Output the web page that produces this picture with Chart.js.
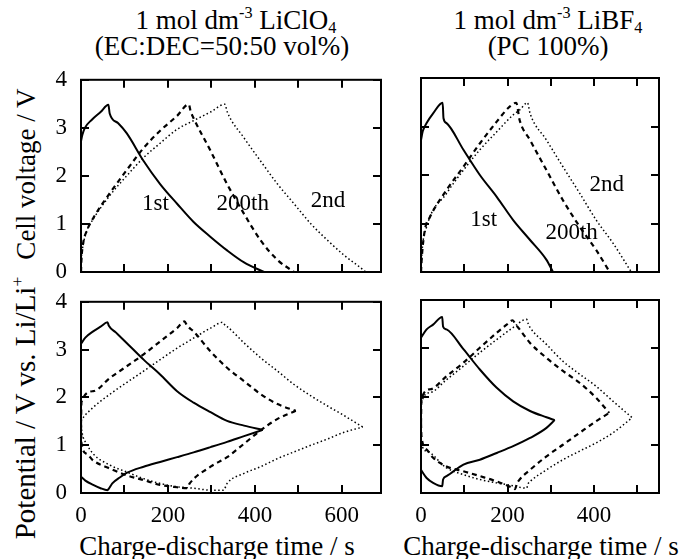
<!DOCTYPE html>
<html>
<head>
<meta charset="utf-8">
<script src="https://cdn.jsdelivr.net/npm/chart.js@4"></script>
<style>
    body {
        margin: 0;
        background: #fff;
        font-family: "Liberation Serif", "DejaVu Serif", serif;
        color: #000;
    }
    .page {
        position: relative;
        width: 681px;
        height: 559px;
        overflow: hidden;
    }
    .box {
        position: absolute;
    }
    .txt {
        position: absolute;
        text-align: center;
        white-space: nowrap;
        font-size: 27px;
        line-height: 30px;
    }
    .ytitle {
        transform: rotate(-90deg);
        transform-origin: center center;
    }
    sup, sub {
        font-size: 0.6em;
        line-height: 0;
    }
    sup { vertical-align: 0.7em; }
    sub { vertical-align: -0.25em; }
</style>
</head>
<body>
<div class="page">
    <div class="txt" style="left:86px;top:5px;width:300px;">1 mol dm<sup>-3</sup> LiClO<sub>4</sub></div>
    <div class="txt" style="left:72px;top:31px;width:300px;">(EC:DEC=50:50 vol%)</div>
    <div class="txt" style="left:400px;top:5px;width:296px;">1 mol dm<sup>-3</sup> LiBF<sub>4</sub></div>
    <div class="txt" style="left:400px;top:31px;width:296px;">(PC 100%)</div>

    <div class="txt ytitle" style="left:-124px;top:159px;width:300px;">Cell voltage / V</div>
    <div class="txt ytitle" style="left:-125px;top:393px;width:300px;font-size:29px;">Potential / V vs. Li/Li<sup>+</sup></div>

    <div class="txt" style="left:67px;top:531px;width:300px;">Charge-discharge time / s</div>
    <div class="txt" style="left:391px;top:531px;width:300px;">Charge-discharge time / s</div>

    <div class="box" style="left:41px;top:60px;width:345px;height:232px;"><canvas id="cellClO4"></canvas></div>
    <div class="box" style="left:406px;top:60px;width:260px;height:232px;"><canvas id="cellBF4"></canvas></div>
    <div class="box" style="left:41px;top:282px;width:345px;height:250px;"><canvas id="potClO4"></canvas></div>
    <div class="box" style="left:406px;top:282px;width:260px;height:250px;"><canvas id="potBF4"></canvas></div>
</div>

<script>
// [time / s, voltage / V]
// 1 mol dm-3 LiClO4, cell voltage
const cellClO4_1st = [[0,2.72],[3,2.85],[9,3.0],[25,3.17],[45,3.33],[63,3.48],[66,3.3],[85,3.1],[105,2.89],[144,2.31],[182,1.83],[221,1.42],[259,1.04],[298,0.73],[336,0.45],[375,0.2],[421,0]];
const cellClO4_200th = [[0,0],[1,0.25],[5,0.6],[13,0.85],[28,1.12],[67,1.65],[105,2.12],[144,2.58],[182,2.94],[221,3.25],[248,3.49],[252,3.35],[259,3.2],[298,2.52],[336,1.83],[375,1.21],[413,0.66],[452,0.25],[490,0]];
const cellClO4_2nd = [[0,0],[1,0.3],[4,0.52],[13,0.85],[28,1.1],[67,1.6],[105,2.0],[144,2.38],[182,2.68],[221,2.97],[259,3.15],[298,3.33],[331,3.49],[336,3.34],[375,2.79],[413,2.31],[452,1.83],[490,1.42],[529,1.0],[567,0.66],[605,0.35],[640,0.11],[655,0]];

// 1 mol dm-3 LiBF4, cell voltage
const cellBF4_1st = [[0,2.72],[4,2.9],[13,3.07],[28,3.27],[50,3.49],[52,3.17],[59,3.07],[98,2.52],[136,2.0],[175,1.55],[213,1.07],[252,0.66],[290,0.25],[305,0]];
const cellBF4_200th = [[0,0],[2,0.32],[9,0.87],[21,1.14],[59,1.69],[98,2.17],[136,2.65],[175,3.1],[205,3.41],[220,3.49],[228,3.13],[252,2.72],[290,2.1],[328,1.48],[367,0.93],[405,0.45],[436,0]];
const cellBF4_2nd = [[0,0],[2,0.38],[13,0.93],[59,1.62],[98,2.1],[136,2.52],[175,2.89],[213,3.24],[228,3.34],[246,3.49],[252,3.27],[290,2.72],[328,2.17],[367,1.62],[405,1.07],[444,0.59],[486,0]];

// LiClO4, electrode potentials (pos = upper branch, neg = lower branch)
const potClO4_1st_pos = [[0,3.12],[10,3.25],[28,3.38],[45,3.48],[61,3.57],[64,3.5],[80,3.36],[105,3.14],[144,2.79],[182,2.48],[221,2.13],[259,1.89],[298,1.69],[336,1.51],[375,1.41],[418,1.32]];
const potClO4_1st_neg = [[0,0.34],[10,0.26],[28,0.17],[45,0.1],[61,0.06],[64,0.09],[72,0.2],[90,0.33],[105,0.42],[144,0.55],[182,0.65],[221,0.75],[259,0.85],[298,0.96],[336,1.07],[375,1.19],[418,1.32]];
const potClO4_200th_pos = [[0,1.45],[1,1.9],[28,2.13],[67,2.41],[105,2.65],[144,2.9],[182,3.17],[221,3.45],[238,3.59],[244,3.5],[259,3.38],[298,2.96],[336,2.62],[375,2.34],[413,2.07],[452,1.86],[494,1.72]];
const potClO4_200th_neg = [[0,1.45],[1,1.05],[13,0.82],[28,0.68],[67,0.51],[105,0.37],[144,0.27],[182,0.17],[221,0.12],[244,0.1],[250,0.2],[298,0.55],[336,0.75],[375,1.03],[413,1.31],[452,1.55],[494,1.72]];
const potClO4_2nd_pos = [[0,1.5],[1,1.52],[28,1.79],[67,2.07],[105,2.31],[144,2.55],[182,2.79],[221,3.03],[259,3.24],[298,3.45],[326,3.57],[332,3.5],[336,3.48],[375,3.14],[413,2.83],[452,2.55],[490,2.27],[529,2.03],[567,1.82],[605,1.62],[648,1.38]];
const potClO4_2nd_neg = [[0,1.5],[2,1.3],[13,1.03],[28,0.82],[67,0.58],[105,0.44],[144,0.3],[182,0.2],[221,0.13],[259,0.1],[298,0.06],[328,0.06],[336,0.2],[375,0.41],[413,0.55],[452,0.72],[490,0.86],[529,1.0],[567,1.13],[605,1.27],[648,1.38]];

// LiBF4, electrode potentials
const potBF4_1st_pos = [[0,3.22],[13,3.39],[28,3.49],[49,3.65],[51,3.45],[59,3.39],[98,2.98],[136,2.56],[175,2.18],[213,1.9],[252,1.7],[290,1.57],[309,1.51]];
const potBF4_1st_neg = [[0,0.48],[13,0.31],[28,0.21],[49,0.14],[51,0.28],[59,0.35],[98,0.59],[136,0.69],[175,0.83],[213,0.97],[252,1.14],[290,1.35],[309,1.51]];
const potBF4_200th_pos = [[0,1.45],[1,1.94],[21,2.15],[59,2.42],[98,2.7],[136,3.01],[175,3.32],[198,3.49],[212,3.58],[218,3.5],[228,3.39],[252,3.11],[290,2.8],[328,2.53],[367,2.28],[405,1.97],[435,1.66]];
const potBF4_200th_neg = [[0,1.45],[1,1.18],[13,0.9],[28,0.73],[59,0.55],[98,0.45],[136,0.35],[175,0.24],[213,0.1],[217,0.08],[222,0.2],[228,0.28],[252,0.48],[290,0.76],[328,1.0],[367,1.25],[405,1.49],[435,1.66]];
const potBF4_2nd_pos = [[0,1.45],[1,1.87],[21,2.08],[59,2.35],[98,2.63],[136,2.91],[175,3.18],[213,3.43],[244,3.6],[248,3.5],[252,3.43],[290,3.08],[328,2.73],[367,2.46],[405,2.21],[444,1.9],[488,1.56]];
const potBF4_2nd_neg = [[0,1.45],[1,1.04],[13,0.87],[59,0.52],[98,0.38],[136,0.28],[175,0.21],[213,0.15],[244,0.1],[248,0.2],[252,0.24],[290,0.48],[328,0.69],[367,0.87],[405,1.04],[444,1.25],[488,1.56]];

// cycle labels in the upper panels: [text, time, voltage]
const labelsClO4 = [["1st", 171, 1.42], ["200th", 372, 1.42], ["2nd", 568, 1.48]];
const labelsBF4 = [["1st", 145, 1.07], ["200th", 348, 0.8], ["2nd", 429, 1.79]];

const yTicks = [0, 1, 2, 3, 4];
const xTickLabels = [0, 200, 400, 600];
const xMaxClO4 = 690;
const xMaxBF4 = 550;

const SERIF = '"Liberation Serif", "DejaVu Serif", serif';

const STYLES = {
    solid: { borderWidth: 2, borderDash: [] },
    dashed: { borderWidth: 2.2, borderDash: [5, 4] },
    dotted: { borderWidth: 1.5, borderDash: [1.5, 2.5] },
};

function line(points, style) {
    return {
        data: points.map((p) => ({ x: p[0], y: p[1] })),
        showLine: true,
        pointRadius: 0,
        borderColor: "#000",
        borderCapStyle: "butt",
        cubicInterpolationMode: "monotone",
        ...STYLES[style],
    };
}

// frame on all four sides with inward ticks, plus the cycle labels
const frameTicks = {
    id: "frameTicks",
    afterDatasetsDraw(chart, args, opts) {
        const { ctx, chartArea: a, scales } = chart;
        const x = scales.x;
        const y = scales.y;
        ctx.save();
        ctx.strokeStyle = "#000";
        ctx.lineWidth = 2;
        ctx.strokeRect(a.left, a.top, a.right - a.left, a.bottom - a.top);
        ctx.beginPath();
        for (let v = 100; v < x.max; v += 100) {
            const px = Math.round(x.getPixelForValue(v));
            ctx.moveTo(px, a.bottom);
            ctx.lineTo(px, a.bottom - 8);
            ctx.moveTo(px, a.top);
            ctx.lineTo(px, a.top + 8);
        }
        yTicks.forEach((v) => {
            const py = Math.round(y.getPixelForValue(v));
            ctx.moveTo(a.left, py);
            ctx.lineTo(a.left + 8, py);
            ctx.moveTo(a.right, py);
            ctx.lineTo(a.right - 8, py);
        });
        ctx.stroke();

        ctx.fillStyle = "#000";
        ctx.font = "23px " + SERIF;
        ctx.textAlign = "center";
        ctx.textBaseline = "middle";
        (opts.labels || []).forEach((l) => {
            ctx.fillText(l[0], x.getPixelForValue(l[1]), y.getPixelForValue(l[2]));
        });
        ctx.restore();
    },
};

function makeChart(id, datasets, opt) {
    new Chart(document.getElementById(id), {
        type: "scatter",
        data: { datasets: datasets },
        plugins: [frameTicks],
        options: {
            responsive: true,
            maintainAspectRatio: false,
            animation: false,
            layout: { padding: { top: 18, right: opt.padRight, bottom: 0, left: 0 } },
            plugins: {
                legend: { display: false },
                tooltip: { enabled: false },
                frameTicks: { labels: opt.labels },
            },
            scales: {
                x: {
                    type: "linear",
                    min: 0,
                    max: opt.xMax,
                    grid: { display: false },
                    border: { display: false },
                    afterBuildTicks: (s) => {
                        s.ticks = xTickLabels.filter((v) => v <= opt.xMax).map((v) => ({ value: v }));
                    },
                    ticks: {
                        display: opt.showX,
                        autoSkip: false,
                        maxRotation: 0,
                        padding: 1,
                        color: "#000",
                        font: { family: SERIF, size: 23 },
                    },
                    afterFit: (s) => {
                        s.height = opt.showX ? 39 : 20;
                    },
                },
                y: {
                    min: 0,
                    max: 4,
                    grid: { display: false },
                    border: { display: false },
                    afterBuildTicks: (s) => {
                        s.ticks = yTicks.map((v) => ({ value: v }));
                    },
                    ticks: {
                        display: opt.showY,
                        padding: 6,
                        color: "#000",
                        font: { family: SERIF, size: 23 },
                    },
                    afterFit: (s) => {
                        s.width = opt.yWidth;
                    },
                },
            },
        },
    });
}

makeChart(
    "cellClO4",
    [line(cellClO4_1st, "solid"), line(cellClO4_200th, "dashed"), line(cellClO4_2nd, "dotted")],
    { xMax: xMaxClO4, showX: false, showY: true, yWidth: 40, padRight: 5, labels: labelsClO4 }
);

makeChart(
    "cellBF4",
    [line(cellBF4_1st, "solid"), line(cellBF4_200th, "dashed"), line(cellBF4_2nd, "dotted")],
    { xMax: xMaxBF4, showX: false, showY: false, yWidth: 15, padRight: 7, labels: labelsBF4 }
);

makeChart(
    "potClO4",
    [
        line(potClO4_1st_pos, "solid"),
        line(potClO4_1st_neg, "solid"),
        line(potClO4_200th_pos, "dashed"),
        line(potClO4_200th_neg, "dashed"),
        line(potClO4_2nd_pos, "dotted"),
        line(potClO4_2nd_neg, "dotted"),
    ],
    { xMax: xMaxClO4, showX: true, showY: true, yWidth: 40, padRight: 5, labels: [] }
);

makeChart(
    "potBF4",
    [
        line(potBF4_1st_pos, "solid"),
        line(potBF4_1st_neg, "solid"),
        line(potBF4_200th_pos, "dashed"),
        line(potBF4_200th_neg, "dashed"),
        line(potBF4_2nd_pos, "dotted"),
        line(potBF4_2nd_neg, "dotted"),
    ],
    { xMax: xMaxBF4, showX: true, showY: false, yWidth: 15, padRight: 7, labels: [] }
);
</script>
</body>
</html>
